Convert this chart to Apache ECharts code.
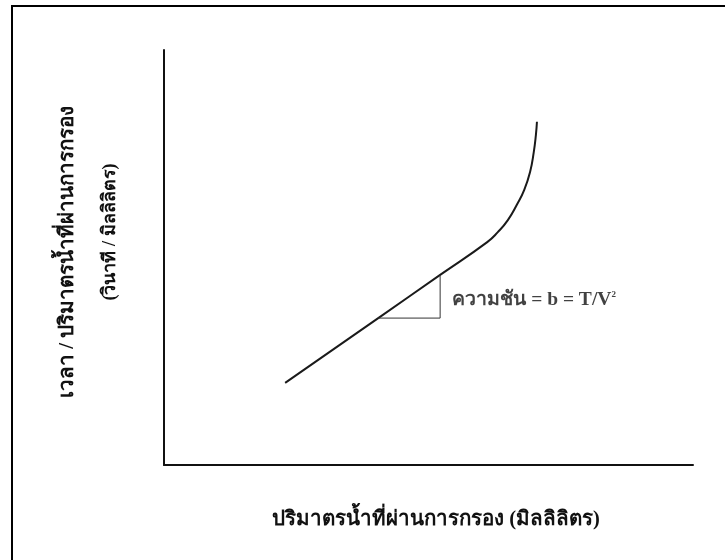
<!DOCTYPE html>
<html>
<head>
<meta charset="utf-8">
<script src="https://cdn.jsdelivr.net/npm/echarts@6/dist/echarts.min.js"></script>
<style>
  html, body { margin: 0; padding: 0; background: #fff; }
  #chart { width: 725px; height: 560px; }
</style>
</head>
<body>
<div id="chart"></div>
<script>
// Filtration curve: time / filtrate volume against filtrate volume (relative units)
const volume = [22.9, 40.5, 52.2, 61.1, 63.1, 65.0, 66.7, 68.1, 69.2, 69.9, 70.3, 70.5];
const timePerVolume = [19.8, 35.4, 45.8, 53.7, 56.1, 59.0, 62.7, 66.3, 70.6, 75.4, 79.5, 82.7];

// Slope triangle on the straight part of the curve
const slopeX = [40.5, 52.2, 52.2];
const slopeY = [35.4, 35.4, 45.8];

// Slope annotation anchor
const noteX = [54.5];
const noteY = [39.8];

const xTitle = 'ปริมาตรน้ำที่ผ่านการกรอง (มิลลิลิตร)';
const yTitle1 = 'เวลา / ปริมาตรน้ำที่ผ่านการกรอง';
const yTitle2 = '(วินาที / มิลลิลิตร)';

const thaiFont = '"Liberation Serif", "DejaVu Serif", "Noto Sans", serif';

const chart = echarts.init(document.getElementById('chart'), null, { renderer: 'canvas' });

const pairs = (xs, ys) => xs.map((x, i) => [x, ys[i]]);

chart.setOption({
  animation: false,
  backgroundColor: '#ffffff',
  grid: { left: 164, top: 50, right: 32, bottom: 95 },
  xAxis: {
    type: 'value', min: 0, max: 100,
    axisLine: { show: true, lineStyle: { color: '#111', width: 2 } },
    axisTick: { show: false }, axisLabel: { show: false }, splitLine: { show: false }
  },
  yAxis: {
    type: 'value', min: 0, max: 100,
    axisLine: { show: true, lineStyle: { color: '#111', width: 2 } },
    axisTick: { show: false }, axisLabel: { show: false }, splitLine: { show: false }
  },
  series: [
    {
      type: 'line',
      data: pairs(volume, timePerVolume),
      smooth: 0.5,
      showSymbol: false,
      lineStyle: { color: '#1a1a1a', width: 2 }
    },
    {
      type: 'line',
      data: pairs(slopeX, slopeY),
      showSymbol: false,
      lineStyle: { color: '#333', width: 1 }
    },
    {
      type: 'scatter',
      data: pairs(noteX, noteY),
      symbolSize: 0,
      label: {
        show: true,
        position: 'right',
        distance: 0,
        formatter: '{a|ความชัน = b = T/V}{s|2}',
        rich: {
          a: { fontFamily: thaiFont, fontSize: 19.5, fontWeight: 'bold', color: '#111' },
          s: { fontFamily: thaiFont, fontSize: 9, fontWeight: 'bold', color: '#111', verticalAlign: 'top', padding: [0, 0, 10, 0] }
        }
      }
    }
  ],
  graphic: [
    {
      type: 'rect',
      shape: { x: 12, y: 6, width: 740, height: 580 },
      style: { fill: 'none', stroke: '#000', lineWidth: 2 },
      silent: true
    },
    {
      type: 'text',
      x: 436, y: 520,
      style: {
        text: xTitle, fontFamily: thaiFont, fontSize: 20.5, fontWeight: 'bold',
        fill: '#111', align: 'center', verticalAlign: 'middle'
      }
    },
    {
      type: 'text',
      x: 68, y: 252, rotation: Math.PI / 2,
      style: {
        text: yTitle1, fontFamily: thaiFont, fontSize: 20.5, fontWeight: 'bold',
        fill: '#111', align: 'center', verticalAlign: 'middle'
      }
    },
    {
      type: 'text',
      x: 110, y: 232, rotation: Math.PI / 2,
      style: {
        text: yTitle2, fontFamily: thaiFont, fontSize: 18, fontWeight: 'bold',
        fill: '#111', align: 'center', verticalAlign: 'middle'
      }
    }
  ]
});
</script>
</body>
</html>
